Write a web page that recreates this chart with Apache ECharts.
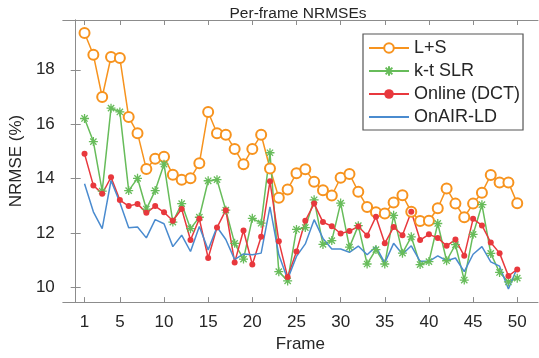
<!DOCTYPE html>
<html>
<head>
<meta charset="utf-8">
<script src="https://cdn.jsdelivr.net/npm/echarts@6/dist/echarts.min.js"></script>
<style>
  html, body { margin: 0; padding: 0; background: #fff; }
  #chart { width: 539px; height: 358px; }
</style>
</head>
<body>
<div id="chart"></div>
<script>
// frames 1..50
const frames = Array.from({ length: 50 }, (_, i) => i + 1)
const xTicks = [1, 5, 10, 15, 20, 25, 30, 35, 40, 45, 50]
const yTicks = [10, 12, 14, 16, 18]

// values
const lsData = [
  19.35, 18.55, 17.0, 18.47, 18.43, 16.26, 15.67, 14.35, 14.73, 14.8,
  14.14, 13.96, 14.01, 14.56, 16.45, 15.67, 15.61, 15.09, 14.53, 15.09,
  15.61, 14.37, 13.3, 13.6, 14.2, 14.34, 13.88, 13.57, 13.38, 14.03,
  14.17, 13.52, 12.96, 12.76, 12.72, 13.12, 13.39, 12.78, 12.44, 12.45,
  12.91, 13.64, 13.08, 12.58, 13.08, 13.48, 14.13, 13.86, 13.86, 13.09
]
const ktSlrData = [
  16.21, 15.36, 13.54, 16.59, 16.45, 13.56, 14.01, 12.88, 13.56, 14.53,
  12.4, 13.08, 12.16, 12.58, 13.92, 13.96, 12.84, 11.62, 11.04, 12.54,
  12.36, 14.95, 10.58, 10.24, 12.13, 12.2, 13.22, 11.58, 11.72, 13.1,
  11.48, 12.27, 10.86, 11.39, 10.86, 12.65, 11.26, 11.86, 10.84, 10.95,
  12.35, 10.98, 11.57, 10.27, 11.95, 13.04, 11.25, 10.55, 10.2, 10.34
]
const onlineData = [
  14.91, 13.75, 13.44, 14.05, 13.21, 12.99, 13.07, 12.74, 12.99, 12.76,
  12.45, 12.88, 11.74, 12.52, 11.08, 12.2, 12.84, 10.92, 12.09, 10.84,
  11.86, 13.9, 11.7, 10.38, 11.32, 12.45, 13.08, 12.4, 12.25, 11.98,
  12.07, 12.24, 11.91, 12.6, 11.62, 12.22, 11.92, 12.78, 11.74, 11.95,
  11.82, 11.53, 11.76, 11.16, 12.52, 12.28, 11.65, 11.26, 10.42, 10.66
]
const onairData = [
  13.81, 12.78, 12.16, 13.93, 13.12, 12.19, 12.22, 11.82, 12.49, 12.34,
  11.5, 11.92, 11.32, 12.24, 11.38, 12.22, 11.76, 11.02, 11.23, 11.2,
  11.26, 12.96, 11.2, 10.3, 11.14, 11.6, 12.49, 11.8, 11.41, 11.41,
  11.29, 11.52, 11.2, 11.5, 10.9, 11.62, 11.22, 11.53, 10.96, 10.96,
  11.16, 10.98, 11.08, 10.58, 11.22, 11.5, 10.94, 10.78, 9.94, 10.72
]

const FONT = '"Liberation Sans", Arial, Helvetica, sans-serif'
const axisGray = '#8c8c8c'
const textDark = '#262626'
const asterisk = 'path://M5,0L5,10M0,5L10,5M1.5,1.5L8.5,8.5M1.5,8.5L8.5,1.5'

const pairs = arr => frames.map((f, i) => [f, arr[i]])

const chart = echarts.init(document.getElementById('chart'), null, { renderer: 'canvas' })

// box axes: bottom/left carry labels, top/right only ticks
const xBase = {
  type: 'value', min: -1.46, max: 52.35,
  axisLine: { show: true, lineStyle: { color: axisGray, width: 1 } },
  axisTick: { show: true, inside: true, length: 5, customValues: xTicks, lineStyle: { color: axisGray } },
  splitLine: { show: false },
}
const yBase = {
  type: 'value', min: 9.46, max: 19.83,
  axisLine: { show: true, lineStyle: { color: axisGray, width: 1 } },
  axisTick: { show: true, inside: true, length: 5, customValues: yTicks, lineStyle: { color: axisGray } },
  splitLine: { show: false },
}

chart.setOption({
  animation: false,
  textStyle: { fontFamily: FONT },
  title: {
    text: 'Per-frame NRMSEs',
    left: 293, top: 1, textAlign: 'center',
    textStyle: { fontFamily: FONT, fontSize: 15.5, fontWeight: 'normal', color: textDark },
  },
  grid: { left: 51, right: 1, top: 20, bottom: 50 },
  legend: {
    orient: 'vertical',
    left: 363, top: 34,
    padding: [5, 3, 4, 5],
    itemWidth: 40, itemHeight: 12, itemGap: 5,
    backgroundColor: '#fff',
    borderColor: '#555', borderWidth: 1.2,
    textStyle: { fontFamily: FONT, fontSize: 18, lineHeight: 18, color: textDark },
    data: [
      'L+S',
      'k-t SLR',
      'Online (DCT)',
      // plain line in the legend, no marker
      { name: 'OnAIR-LD', itemStyle: { color: 'rgba(0,0,0,0)', borderWidth: 0 } },
    ],
  },
  xAxis: [
    Object.assign({}, xBase, {
      position: 'bottom',
      axisLabel: { show: true, customValues: xTicks, margin: 12, fontSize: 17, color: textDark, fontFamily: FONT },
      name: 'Frame', nameLocation: 'middle', nameGap: 31,
      nameTextStyle: { fontSize: 17, color: textDark, fontFamily: FONT },
    }),
    Object.assign({}, xBase, { position: 'top', axisLabel: { show: false } }),
  ],
  yAxis: [
    Object.assign({}, yBase, {
      position: 'left',
      axisLabel: { show: true, customValues: yTicks, margin: 8, fontSize: 17, color: textDark, fontFamily: FONT },
      name: 'NRMSE (%)', nameLocation: 'middle', nameGap: 30, nameRotate: 90,
      nameTextStyle: { fontSize: 17, color: textDark, fontFamily: FONT },
    }),
    Object.assign({}, yBase, { position: 'right', axisLabel: { show: false } }),
  ],
  series: [
    {
      name: 'L+S', type: 'line', data: pairs(lsData),
      showAllSymbol: true, symbol: 'emptyCircle', symbolSize: 10,
      lineStyle: { color: '#F7931E', width: 1.5 },
      itemStyle: { color: '#F7931E', borderColor: '#F7931E', borderWidth: 1.3 },
    },
    {
      name: 'k-t SLR', type: 'line', data: pairs(ktSlrData),
      showAllSymbol: true, symbol: asterisk, symbolSize: 9,
      lineStyle: { color: '#67BC5A', width: 1.5 },
      itemStyle: { color: '#67BC5A', borderColor: '#67BC5A', borderWidth: 1.3 },
    },
    {
      name: 'Online (DCT)', type: 'line', data: pairs(onlineData),
      showAllSymbol: true, symbol: 'circle', symbolSize: 6,
      lineStyle: { color: '#E8383D', width: 1.5 },
      itemStyle: { color: '#E8383D' },
    },
    {
      name: 'OnAIR-LD', type: 'line', data: pairs(onairData),
      symbol: 'none',
      lineStyle: { color: '#4A8BCF', width: 1.5 },
      itemStyle: { color: '#4A8BCF' },
    },
  ],
})
</script>
</body>
</html>
